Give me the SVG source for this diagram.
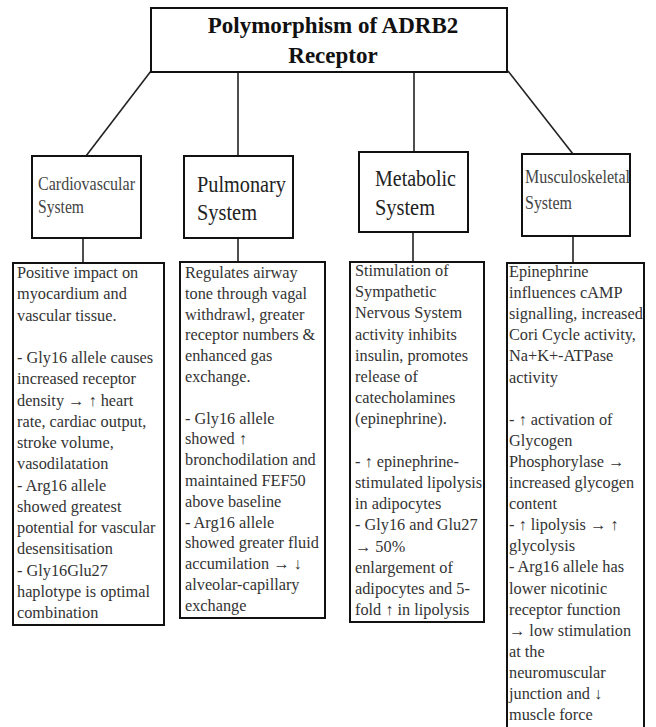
<svg xmlns="http://www.w3.org/2000/svg" width="656" height="727" viewBox="0 0 656 727">
<style>
.box{fill:#fff;stroke:#111;stroke-width:2}
.ln{stroke:#222;stroke-width:1.6;fill:none}
.title{font-family:"Liberation Serif","Times New Roman",serif;font-weight:bold;font-size:23px;fill:#111;text-anchor:middle}
.hs{font-family:"Liberation Serif","Times New Roman",serif;font-size:19px;fill:#444}
.hl{font-family:"Liberation Serif","Times New Roman",serif;font-size:24px;fill:#222}
.body{font-family:"Liberation Serif","DejaVu Serif",serif;font-size:16.3px;fill:#333}
</style>
<rect width="656" height="727" fill="#fff"/>
<g id="connectors">
<line class="ln" x1="151" y1="71" x2="86" y2="156"/>
<line class="ln" x1="238" y1="71" x2="238" y2="156"/>
<line class="ln" x1="414" y1="71" x2="414" y2="152"/>
<line class="ln" x1="508" y1="71" x2="573" y2="154"/>
<line class="ln" x1="83" y1="238" x2="83" y2="263"/>
<line class="ln" x1="238" y1="238" x2="238" y2="262"/>
<line class="ln" x1="413" y1="232" x2="413" y2="262"/>
<line class="ln" x1="573" y1="236" x2="573" y2="263"/>
</g>
<g id="title">
<rect class="box" x="151" y="8" width="356" height="64"/>
<text class="title" x="333" y="33">Polymorphism of ADRB2</text>
<text class="title" x="333" y="63">Receptor</text>
</g>
<g id="cardiovascular">
<rect class="box" x="32" y="156" width="109" height="82"/>
<text class="hs" x="38" y="190" textLength="97" lengthAdjust="spacingAndGlyphs">Cardiovascular</text>
<text class="hs" x="38" y="213" textLength="46" lengthAdjust="spacingAndGlyphs">System</text>
</g>
<g id="pulmonary">
<rect class="box" x="184" y="156" width="109" height="82"/>
<text class="hl" x="197" y="192" textLength="89" lengthAdjust="spacingAndGlyphs">Pulmonary</text>
<text class="hl" x="197" y="220" textLength="60" lengthAdjust="spacingAndGlyphs">System</text>
</g>
<g id="metabolic">
<rect class="box" x="359" y="152" width="109" height="80"/>
<text class="hl" x="375" y="186" textLength="81" lengthAdjust="spacingAndGlyphs">Metabolic</text>
<text class="hl" x="375" y="215" textLength="60" lengthAdjust="spacingAndGlyphs">System</text>
</g>
<g id="musculoskeletal">
<rect class="box" x="522" y="154" width="108" height="82"/>
<text class="hs" x="525" y="183" textLength="105" lengthAdjust="spacingAndGlyphs">Musculoskeletal</text>
<text class="hs" x="525" y="209" textLength="47" lengthAdjust="spacingAndGlyphs">System</text>
</g>
<g id="cardio-details">
<rect class="box" x="13" y="263" width="151" height="362"/>
<text class="body" y="278">
<tspan x="17">Positive impact on</tspan>
<tspan x="17" dy="21.25">myocardium  and</tspan>
<tspan x="17" dy="21.25">vascular tissue.</tspan>
<tspan x="17" dy="42.5">- Gly16 allele causes</tspan>
<tspan x="17" dy="21.25">increased receptor</tspan>
<tspan x="17" dy="21.25">density → ↑ heart</tspan>
<tspan x="17" dy="21.25">rate, cardiac output,</tspan>
<tspan x="17" dy="21.25">stroke volume,</tspan>
<tspan x="17" dy="21.25">vasodilatation</tspan>
<tspan x="17" dy="21.25">- Arg16 allele</tspan>
<tspan x="17" dy="21.25">showed greatest</tspan>
<tspan x="17" dy="21.25">potential for vascular</tspan>
<tspan x="17" dy="21.25">desensitisation</tspan>
<tspan x="17" dy="21.25">- Gly16Glu27</tspan>
<tspan x="17" dy="21.25">haplotype is optimal</tspan>
<tspan x="17" dy="21.25">combination</tspan>
</text>
</g>
<g id="pulmonary-details">
<rect class="box" x="180" y="262" width="145" height="356"/>
<text class="body" y="278">
<tspan x="185">Regulates airway</tspan>
<tspan x="185" dy="20.8">tone through vagal</tspan>
<tspan x="185" dy="20.8">withdrawl, greater</tspan>
<tspan x="185" dy="20.8">receptor numbers &amp;</tspan>
<tspan x="185" dy="20.8">enhanced gas</tspan>
<tspan x="185" dy="20.8">exchange.</tspan>
<tspan x="185" dy="41.6">- Gly16 allele</tspan>
<tspan x="185" dy="20.8">showed ↑</tspan>
<tspan x="185" dy="20.8">bronchodilation and</tspan>
<tspan x="185" dy="20.8">maintained FEF50</tspan>
<tspan x="185" dy="20.8">above baseline</tspan>
<tspan x="185" dy="20.8">- Arg16 allele</tspan>
<tspan x="185" dy="20.8">showed greater fluid</tspan>
<tspan x="185" dy="20.8">accumilation → ↓</tspan>
<tspan x="185" dy="20.8">alveolar-capillary</tspan>
<tspan x="185" dy="20.8">exchange</tspan>
</text>
</g>
<g id="metabolic-details">
<rect class="box" x="350" y="262" width="134" height="360"/>
<text class="body" y="276">
<tspan x="355">Stimulation of</tspan>
<tspan x="355" dy="21.2">Sympathetic</tspan>
<tspan x="355" dy="21.2">Nervous System</tspan>
<tspan x="355" dy="21.2">activity inhibits</tspan>
<tspan x="355" dy="21.2">insulin, promotes</tspan>
<tspan x="355" dy="21.2">release of</tspan>
<tspan x="355" dy="21.2">catecholamines</tspan>
<tspan x="355" dy="21.2">(epinephrine).</tspan>
<tspan x="355" dy="42.4">- ↑ epinephrine-</tspan>
<tspan x="355" dy="21.2">stimulated lipolysis</tspan>
<tspan x="355" dy="21.2">in adipocytes</tspan>
<tspan x="355" dy="21.2">- Gly16 and Glu27</tspan>
<tspan x="355" dy="21.2">→ 50%</tspan>
<tspan x="355" dy="21.2">enlargement of</tspan>
<tspan x="355" dy="21.2">adipocytes and 5-</tspan>
<tspan x="355" dy="21.2">fold ↑ in lipolysis</tspan>
</text>
</g>
<g id="musculoskeletal-details">
<rect class="box" x="507" y="263" width="137" height="480"/>
<text class="body" y="277">
<tspan x="509">Epinephrine</tspan>
<tspan x="509" dy="21.1">influences cAMP</tspan>
<tspan x="509" dy="21.1">signalling, increased</tspan>
<tspan x="509" dy="21.1">Cori Cycle activity,</tspan>
<tspan x="509" dy="21.1">Na+K+-ATPase</tspan>
<tspan x="509" dy="21.1">activity</tspan>
<tspan x="509" dy="42.2">- ↑ activation of</tspan>
<tspan x="509" dy="21.1">Glycogen</tspan>
<tspan x="509" dy="21.1">Phosphorylase →</tspan>
<tspan x="509" dy="21.1">increased glycogen</tspan>
<tspan x="509" dy="21.1">content</tspan>
<tspan x="509" dy="21.1">- ↑ lipolysis → ↑</tspan>
<tspan x="509" dy="21.1">glycolysis</tspan>
<tspan x="509" dy="21.1">- Arg16 allele has</tspan>
<tspan x="509" dy="21.1">lower nicotinic</tspan>
<tspan x="509" dy="21.1">receptor function</tspan>
<tspan x="509" dy="21.1">→ low stimulation</tspan>
<tspan x="509" dy="21.1">at the</tspan>
<tspan x="509" dy="21.1">neuromuscular</tspan>
<tspan x="509" dy="21.1">junction and ↓</tspan>
<tspan x="509" dy="21.1">muscle force</tspan>
</text>
</g>
</svg>
